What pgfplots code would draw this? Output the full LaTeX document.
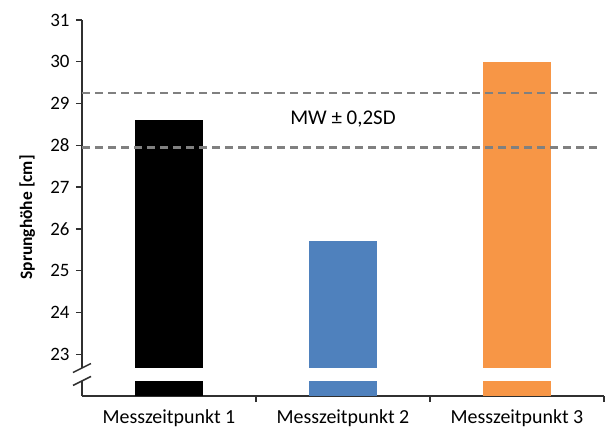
\documentclass[border=0pt]{standalone}
\usepackage{pgfplots}
\pgfplotsset{compat=1.18}
\usepackage{fontspec}
\setmainfont{Carlito}
\definecolor{barblue}{HTML}{4F81BD}
\definecolor{barorange}{HTML}{F79646}
\definecolor{dashgray}{HTML}{808080}
\definecolor{axisgray}{HTML}{303030}
\begin{document}
\begin{tikzpicture}
\useasboundingbox (-82bp,-34bp) rectangle (529bp,396bp);
\begin{axis}[
    at={(0,0)}, anchor=south west,
    scale only axis,
    width=522bp, height=376bp,
    xmin=-0.5, xmax=2.5,
    ymin=22, ymax=31,
    ytick={23,24,25,26,27,28,29,30,31},
    xtick={0.5,1.5,2.5},
    xticklabels={},
    extra x ticks={0,1,2},
    extra x tick labels={Messzeitpunkt 1, Messzeitpunkt 2, Messzeitpunkt 3},
    extra x tick style={major tick length=0pt},
    axis x line*=bottom,
    axis y line*=left,
    axis line style={axisgray, line width=1.4bp, -},
    tick align=outside,
    major tick length=6bp,
    tick style={axisgray, line width=1.4bp},
    y tick label style={font=\fontsize{19}{22}\selectfont, xshift=-3bp},
    x tick label style={font=\fontsize{20}{24}\selectfont, yshift=-10bp},
    /pgf/number format/assume math mode=true,
    ylabel={\textbf{Sprunghöhe [cm]}},
    ylabel style={font=\fontsize{17.5}{20}\selectfont, at={(axis description cs:-0.105,0.475)}, anchor=center},
    ybar, bar width=68bp, bar shift=0pt,
    clip=false,
]
\addplot[fill=black, draw=none] coordinates {(0,28.6)};
\addplot[fill=barblue, draw=none] coordinates {(1,25.7)};
\addplot[fill=barorange, draw=none] coordinates {(2,30.0)};
% axis break
\fill[white] (axis cs:-0.52,22.36) rectangle (axis cs:2.5,22.67);
\draw[axisgray, line width=1.5bp] (axis cs:-0.5,22.67) ++(-9bp,-4.5bp) -- ++(18bp,9bp);
\draw[axisgray, line width=1.5bp] (axis cs:-0.5,22.36) ++(-9bp,-4.5bp) -- ++(18bp,9bp);
% MW +- 0,2SD
\draw[dashgray, line width=2.4bp, dash pattern=on 8bp off 5bp] (axis cs:-0.5,29.25) -- (axis cs:2.47,29.25);
\draw[dashgray, line width=2.4bp, dash pattern=on 8bp off 5bp] (axis cs:-0.5,27.95) -- (axis cs:2.47,27.95);
\node[font=\fontsize{21}{24}\selectfont] at (axis cs:1.0,28.62) {MW ± 0,2SD};
\end{axis}
\end{tikzpicture}
\end{document}
